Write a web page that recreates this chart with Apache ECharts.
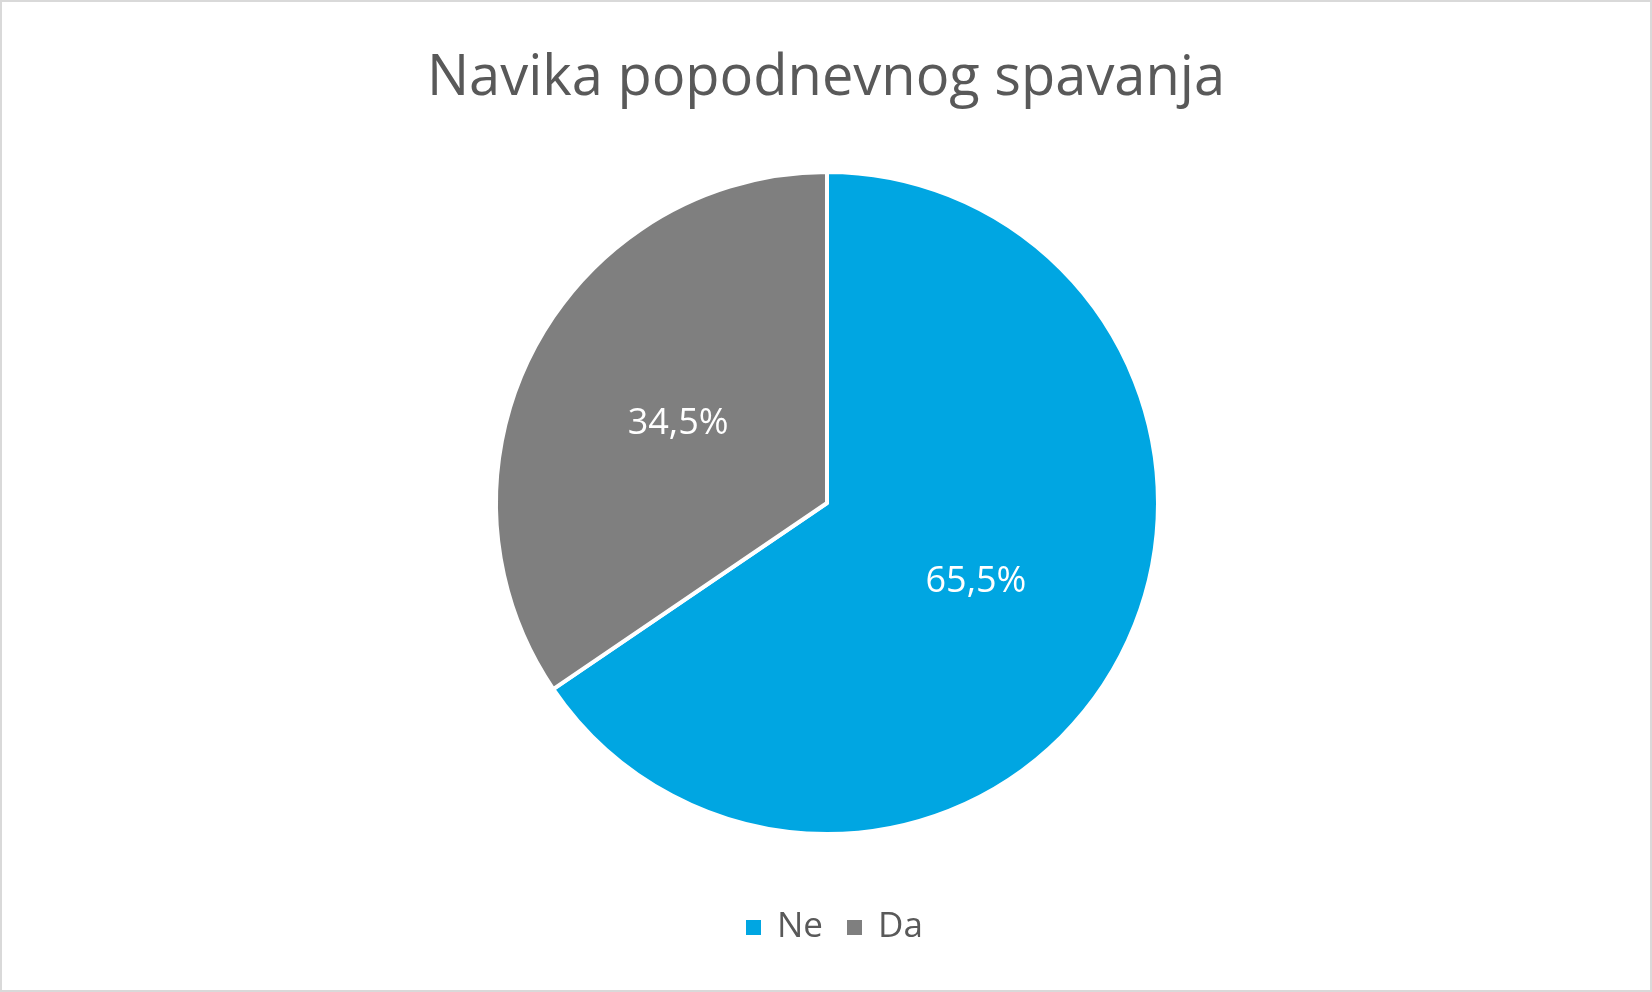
<!DOCTYPE html>
<html>
<head>
<meta charset="utf-8">
<script src="https://cdn.jsdelivr.net/npm/echarts@6/dist/echarts.min.js"></script>
<style>
  html, body { margin: 0; padding: 0; background: #fff; }
  #chart { width: 1652px; height: 992px; }
</style>
</head>
<body>
<div id="chart"></div>
<script>
const title = 'Navika popodnevnog spavanja'
const categories = ['Ne', 'Da']
const shares = [65.5, 34.5]
const colors = ['#00A6E2', '#7F7F7F']

const chart = echarts.init(document.getElementById('chart'))

const option = {
  animation: false,
  color: colors,
  title: {
    text: title,
    left: 'center',
    top: 46,
    textStyle: {
      fontFamily: 'Open Sans',
      fontSize: 56,
      fontWeight: 'normal',
      color: '#595959'
    }
  },
  legend: {
    data: categories,
    bottom: 42,
    left: 741,
    icon: 'rect',
    itemWidth: 15,
    itemHeight: 15,
    itemGap: 24,
    itemStyle: { borderWidth: 0 },
    textStyle: {
      fontFamily: 'Open Sans',
      fontSize: 35,
      color: '#595959',
      padding: [0, 0, 0, 11]
    }
  },
  graphic: [{
    type: 'rect',
    shape: { x: 1, y: 1, width: 1650, height: 990 },
    style: { fill: 'none', stroke: '#D9D9D9', lineWidth: 2 },
    silent: true
  }],
  series: [{
    type: 'pie',
    center: [827, 503],
    radius: 331,
    startAngle: 90,
    clockwise: true,
    data: categories.map((name, i) => ({ name, value: shares[i] })),
    itemStyle: {
      borderColor: '#fff',
      borderWidth: 4
    },
    label: {
      show: true,
      position: 'inside',
      formatter: p => p.value.toFixed(1).replace('.', ',') + '%',
      fontFamily: 'Open Sans',
      fontSize: 36,
      color: '#fff',
      padding: [8, 0, 0, 0]
    },
    labelLine: { show: false },
    emphasis: { disabled: true }
  }]
}

chart.setOption(option)
</script>
</body>
</html>
